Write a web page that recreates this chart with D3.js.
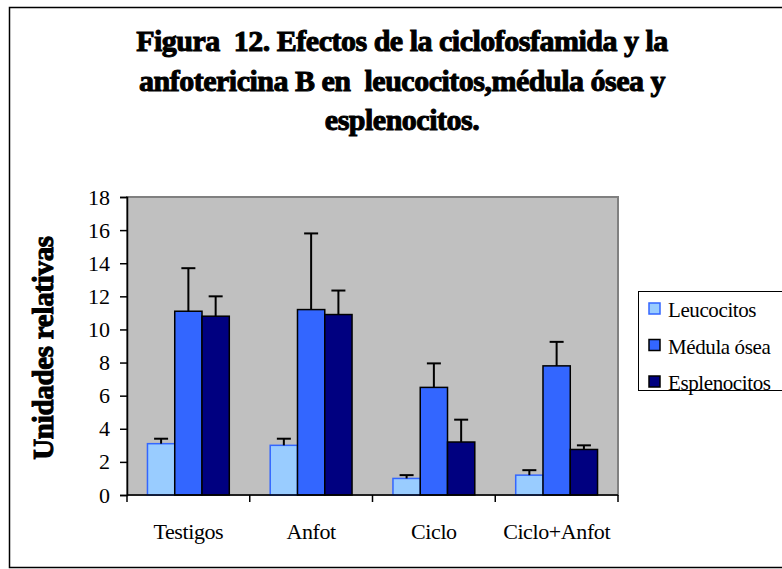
<!DOCTYPE html>
<html lang="es">
<head>
<meta charset="UTF-8">
<title>Figura 12</title>
<script src="https://d3js.org/d3.v7.min.js"></script>
<style>
  body { margin: 0; background: #fff; }
  text { font-family: "Liberation Serif", "Times New Roman", serif; }
</style>
</head>
<body>
<svg width="782" height="569"></svg>
<script>
// data
const categories = ["Testigos", "Anfot", "Ciclo", "Ciclo+Anfot"];
const seriesNames = ["Leucocitos", "Médula ósea", "Esplenocitos"];
const leucocitos = [3.1, 3.0, 1.0, 1.2];
const medula = [11.1, 11.2, 6.5, 7.8];
const esplenocitos = [10.8, 10.9, 3.2, 2.75];
const errLeucocitos = [0.3, 0.4, 0.2, 0.3];
const errMedula = [2.6, 4.6, 1.45, 1.45];
const errEsplenocitos = [1.2, 1.45, 1.35, 0.25];
const yTicks = [0, 2, 4, 6, 8, 10, 12, 14, 16, 18];

const fills = ["#99ccff", "#3366ff", "#000080"];
const strokes = ["#3366ff", "#000000", "#000000"];

const values = [leucocitos, medula, esplenocitos];
const errors = [errLeucocitos, errMedula, errEsplenocitos];

const svg = d3.select("svg");

// outer frame
svg.append("rect")
  .attr("x", 9.5).attr("y", 7.5)
  .attr("width", 800).attr("height", 560)
  .attr("fill", "#fff").attr("stroke", "#000").attr("stroke-width", 1.5);

// title
const titleLines = [
  "Figura  12. Efectos de la ciclofosfamida y la",
  "anfotericina B en  leucocitos,médula ósea y",
  "esplenocitos."
];
svg.append("g").selectAll("text")
  .data(titleLines)
  .join("text")
  .attr("x", 402)
  .attr("y", (d, i) => 51 + i * 39.5)
  .attr("text-anchor", "middle")
  .attr("font-size", "30px")
  .attr("font-weight", "bold")
  .attr("letter-spacing", "-0.5px")
  .attr("stroke", "#000").attr("stroke-width", 1)
  .style("white-space", "pre")
  .text(d => d);

const plot = { left: 127, top: 197, right: 618, bottom: 495 };

const x0 = d3.scaleBand()
  .domain(categories)
  .range([plot.left, plot.right])
  .paddingInner(1 / 3)
  .paddingOuter(1 / 6);

const x1 = d3.scaleBand()
  .domain(seriesNames)
  .range([0, x0.bandwidth()]);

const y = d3.scaleLinear()
  .domain([0, 18])
  .range([plot.bottom, plot.top]);

// plot area
svg.append("rect")
  .attr("x", plot.left).attr("y", plot.top)
  .attr("width", plot.right - plot.left)
  .attr("height", plot.bottom - plot.top)
  .attr("fill", "#c0c0c0")
  .attr("stroke", "#808080").attr("stroke-width", 2);

// bars
const groups = svg.append("g").selectAll("g")
  .data(seriesNames)
  .join("g");

groups.each(function (name, s) {
  const g = d3.select(this);
  categories.forEach((c, i) => {
    const bx = x0(c) + x1(name);
    const v = values[s][i];
    g.append("rect")
      .attr("x", bx)
      .attr("y", y(v))
      .attr("width", x1.bandwidth())
      .attr("height", y(0) - y(v))
      .attr("fill", fills[s])
      .attr("stroke", strokes[s])
      .attr("stroke-width", 1.5);
    // error bar (upper only)
    const cx = bx + x1.bandwidth() / 2;
    const top = y(v + errors[s][i]);
    g.append("line")
      .attr("x1", cx).attr("x2", cx)
      .attr("y1", y(v)).attr("y2", top)
      .attr("stroke", "#000").attr("stroke-width", 2);
    g.append("line")
      .attr("x1", cx - 7).attr("x2", cx + 7)
      .attr("y1", top).attr("y2", top)
      .attr("stroke", "#000").attr("stroke-width", 2);
  });
});

// y axis
const yAxis = svg.append("g")
  .attr("transform", `translate(${plot.left},0)`)
  .call(d3.axisLeft(y).tickValues(yTicks).tickSize(7).tickPadding(10));
yAxis.select(".domain").attr("stroke", "#000").attr("stroke-width", 1.5);
yAxis.selectAll(".tick line").attr("stroke", "#000").attr("stroke-width", 1.5);
yAxis.selectAll(".tick text")
  .attr("font-family", "Liberation Serif, serif")
  .attr("font-size", "22px")
  .attr("fill", "#000");

// x axis line and boundary ticks
svg.append("line")
  .attr("x1", plot.left).attr("x2", plot.right)
  .attr("y1", plot.bottom).attr("y2", plot.bottom)
  .attr("stroke", "#000").attr("stroke-width", 1.5);

const step = x0.step();
const boundaries = d3.range(categories.length + 1).map(i => plot.left + i * step);
svg.append("g").selectAll("line")
  .data(boundaries)
  .join("line")
  .attr("x1", d => d).attr("x2", d => d)
  .attr("y1", plot.bottom).attr("y2", plot.bottom + 7)
  .attr("stroke", "#000").attr("stroke-width", 1.5);

svg.append("g").selectAll("text")
  .data(categories)
  .join("text")
  .attr("x", d => x0(d) + x0.bandwidth() / 2)
  .attr("y", 539)
  .attr("text-anchor", "middle")
  .attr("font-size", "22px")
  .attr("letter-spacing", "-0.4px")
  .text(d => d);

// y axis title
svg.append("text")
  .attr("transform", `translate(53,${(plot.top + plot.bottom) / 2 + 2}) rotate(-90)`)
  .attr("text-anchor", "middle")
  .attr("font-size", "29px")
  .attr("font-weight", "bold")
  .attr("letter-spacing", "-0.3px")
  .attr("stroke", "#000").attr("stroke-width", 1)
  .text("Unidades relativas");

// legend
const legend = svg.append("g");
legend.append("rect")
  .attr("x", 638.5).attr("y", 291.5)
  .attr("width", 160).attr("height", 99)
  .attr("fill", "#fff").attr("stroke", "#000").attr("stroke-width", 1);

const items = legend.selectAll("g.item")
  .data(seriesNames)
  .join("g")
  .attr("class", "item")
  .attr("transform", (d, i) => `translate(649,${309 + i * 36.5})`);

items.append("rect")
  .attr("x", 0).attr("y", -6)
  .attr("width", 11).attr("height", 11)
  .attr("fill", (d, i) => fills[i])
  .attr("stroke", (d, i) => strokes[i])
  .attr("stroke-width", 1.5);

items.append("text")
  .attr("x", 19).attr("y", 8)
  .attr("font-size", "21px")
  .attr("letter-spacing", "-0.4px")
  .text(d => d);
</script>
</body>
</html>
